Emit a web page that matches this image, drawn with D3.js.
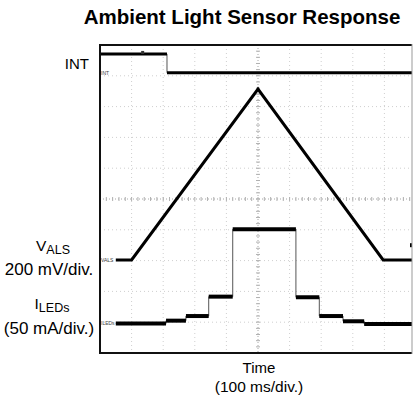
<!DOCTYPE html>
<meta charset="utf-8">
<body style="margin:0;background:#fff">
<div id="chart"></div>
<script src="https://d3js.org/d3.v7.min.js"></script>
<script>
// scope traces, time in ms (100 ms/div), level in divisions from bottom
var intTime = [0, 212, 1000];
var intLevel = [9.71, 9.10, 9.10];

var alsTime = [50, 100, 500, 896, 1000];
var alsLevel = [3.02, 3.02, 8.57, 3.02, 3.02];

var ledTime = [50, 209, 272, 344, 420, 620, 694, 769, 836, 1000];
var ledLevel = [0.96, 1.05, 1.2, 1.83, 4.02, 1.81, 1.2, 1.03, 0.94, 0.94];

var divTicks = d3.range(0, 11);

var w = 413, h = 400;
var svg = d3.select("#chart").append("svg")
    .attr("width", w)
    .attr("height", h)
    .style("font-family", "'Liberation Sans', Arial, sans-serif");

var x = d3.scaleLinear().domain([0, 1000]).range([100, 416]);
var y = d3.scaleLinear().domain([0, 10]).range([353, 45]);
var right = 412;

svg.append("clipPath").attr("id", "clip")
    .append("rect").attr("x", 100).attr("y", 45).attr("width", right - 100).attr("height", 308);

var plot = svg.append("g").attr("clip-path", "url(#clip)");

// grid
plot.selectAll(".vg").data(divTicks.filter(function(d) { return d > 0 && d < 10 && d != 5; }))
    .enter().append("line")
    .attr("x1", function(d) { return x(d * 100); })
    .attr("x2", function(d) { return x(d * 100); })
    .attr("y1", 45).attr("y2", 353)
    .attr("stroke", "#cfcfcf").attr("stroke-dasharray", "1,3");
plot.selectAll(".hg").data(divTicks.filter(function(d) { return d > 0 && d < 10 && d != 5; }))
    .enter().append("line")
    .attr("y1", function(d) { return y(d); })
    .attr("y2", function(d) { return y(d); })
    .attr("x1", 100).attr("x2", right)
    .attr("stroke", "#cfcfcf").attr("stroke-dasharray", "1,3");

// centre axes with minor ticks
plot.append("line").attr("x1", x(500)).attr("x2", x(500)).attr("y1", 45).attr("y2", 353)
    .attr("stroke", "#a8a8a8").attr("stroke-dasharray", "1,2");
plot.append("line").attr("y1", y(5)).attr("y2", y(5)).attr("x1", 100).attr("x2", right)
    .attr("stroke", "#a8a8a8").attr("stroke-dasharray", "1,2");
var minor = d3.range(0, 50.5, 1);
plot.selectAll(".mx").data(minor).enter().append("line")
    .attr("x1", function(d) { return x(d * 20); })
    .attr("x2", function(d) { return x(d * 20); })
    .attr("y1", y(5) - 2).attr("y2", y(5) + 2)
    .attr("stroke", "#b0b0b0");
plot.selectAll(".my").data(minor).enter().append("line")
    .attr("y1", function(d) { return y(d / 5); })
    .attr("y2", function(d) { return y(d / 5); })
    .attr("x1", x(500) - 2).attr("x2", x(500) + 2)
    .attr("stroke", "#b0b0b0");

function pts(t, v) {
    return t.map(function(d, i) { return [d, v[i]]; });
}
function drawStep(t, v, thick) {
    var p = pts(t, v);
    plot.append("path")
        .attr("d", d3.line().x(function(d) { return x(d[0]); }).y(function(d) { return y(d[1]); }).curve(d3.curveStepAfter)(p))
        .attr("fill", "none").attr("stroke", "#555").attr("stroke-width", 1);
    plot.selectAll(null).data(p.slice(0, -1)).enter().append("line")
        .attr("x1", function(d) { return x(d[0]); })
        .attr("x2", function(d, i) { return x(p[i + 1][0]); })
        .attr("y1", function(d) { return y(d[1]); })
        .attr("y2", function(d) { return y(d[1]); })
        .attr("stroke", "#000").attr("stroke-width", thick);
}

drawStep(intTime, intLevel, 3);
drawStep(ledTime, ledLevel, 4);

plot.append("path")
    .attr("d", d3.line().x(function(d) { return x(d[0]); }).y(function(d) { return y(d[1]); })(pts(alsTime, alsLevel)))
    .attr("fill", "none").attr("stroke", "#000").attr("stroke-width", 3);

// trigger marker and right marker
plot.append("rect").attr("x", x(135) - 1.5).attr("y", y(intLevel[0]) - 3).attr("width", 3).attr("height", 3).attr("fill", "#333");
plot.append("rect").attr("x", right - 2).attr("y", y(3.5) - 2).attr("width", 2).attr("height", 4).attr("fill", "#000");

// tiny channel tags
var tags = [["INT", 9.10], ["VALS", 3.02], ["ILEDs", 0.96]];
plot.selectAll(".tag").data(tags).enter().append("text")
    .attr("x", 101).attr("y", function(d) { return y(d[1]) + 2; })
    .attr("font-size", 5).attr("fill", "#444")
    .text(function(d) { return d[0]; });

// frame
svg.append("line").attr("x1", 100).attr("x2", right).attr("y1", 45).attr("y2", 45).attr("stroke", "#111").attr("stroke-width", 2);
svg.append("line").attr("x1", 100).attr("x2", right).attr("y1", 353).attr("y2", 353).attr("stroke", "#111").attr("stroke-width", 2);
svg.append("line").attr("x1", 100).attr("x2", 100).attr("y1", 44).attr("y2", 354).attr("stroke", "#111").attr("stroke-width", 2);
svg.append("line").attr("x1", right).attr("x2", right).attr("y1", 44).attr("y2", 354).attr("stroke", "#999").attr("stroke-width", 1);

// title
svg.append("text").attr("x", 242).attr("y", 24).attr("text-anchor", "middle")
    .attr("font-size", 20.5).attr("font-weight", "bold").text("Ambient Light Sensor Response");

// left labels
svg.append("text").attr("x", 89).attr("y", 69).attr("text-anchor", "end").attr("font-size", 15).text("INT");

function subLabel(cx, cy, main, sub) {
    var t = svg.append("text").attr("x", cx).attr("y", cy).attr("text-anchor", "middle").attr("font-size", 15.5);
    t.append("tspan").text(main);
    t.append("tspan").attr("font-size", 12.5).attr("dy", 3).text(sub);
}
subLabel(53, 251, "V", "ALS");
svg.append("text").attr("x", 49).attr("y", 275).attr("text-anchor", "middle").attr("font-size", 17).text("200 mV/div.");
subLabel(52, 309, "I", "LEDs");
svg.append("text").attr("x", 49).attr("y", 334).attr("text-anchor", "middle").attr("font-size", 17).text("(50 mA/div.)");

// time label
svg.append("text").attr("x", 259).attr("y", 373).attr("text-anchor", "middle").attr("font-size", 15).text("Time");
svg.append("text").attr("x", 259).attr("y", 392).attr("text-anchor", "middle").attr("font-size", 15.5).text("(100 ms/div.)");
</script>
